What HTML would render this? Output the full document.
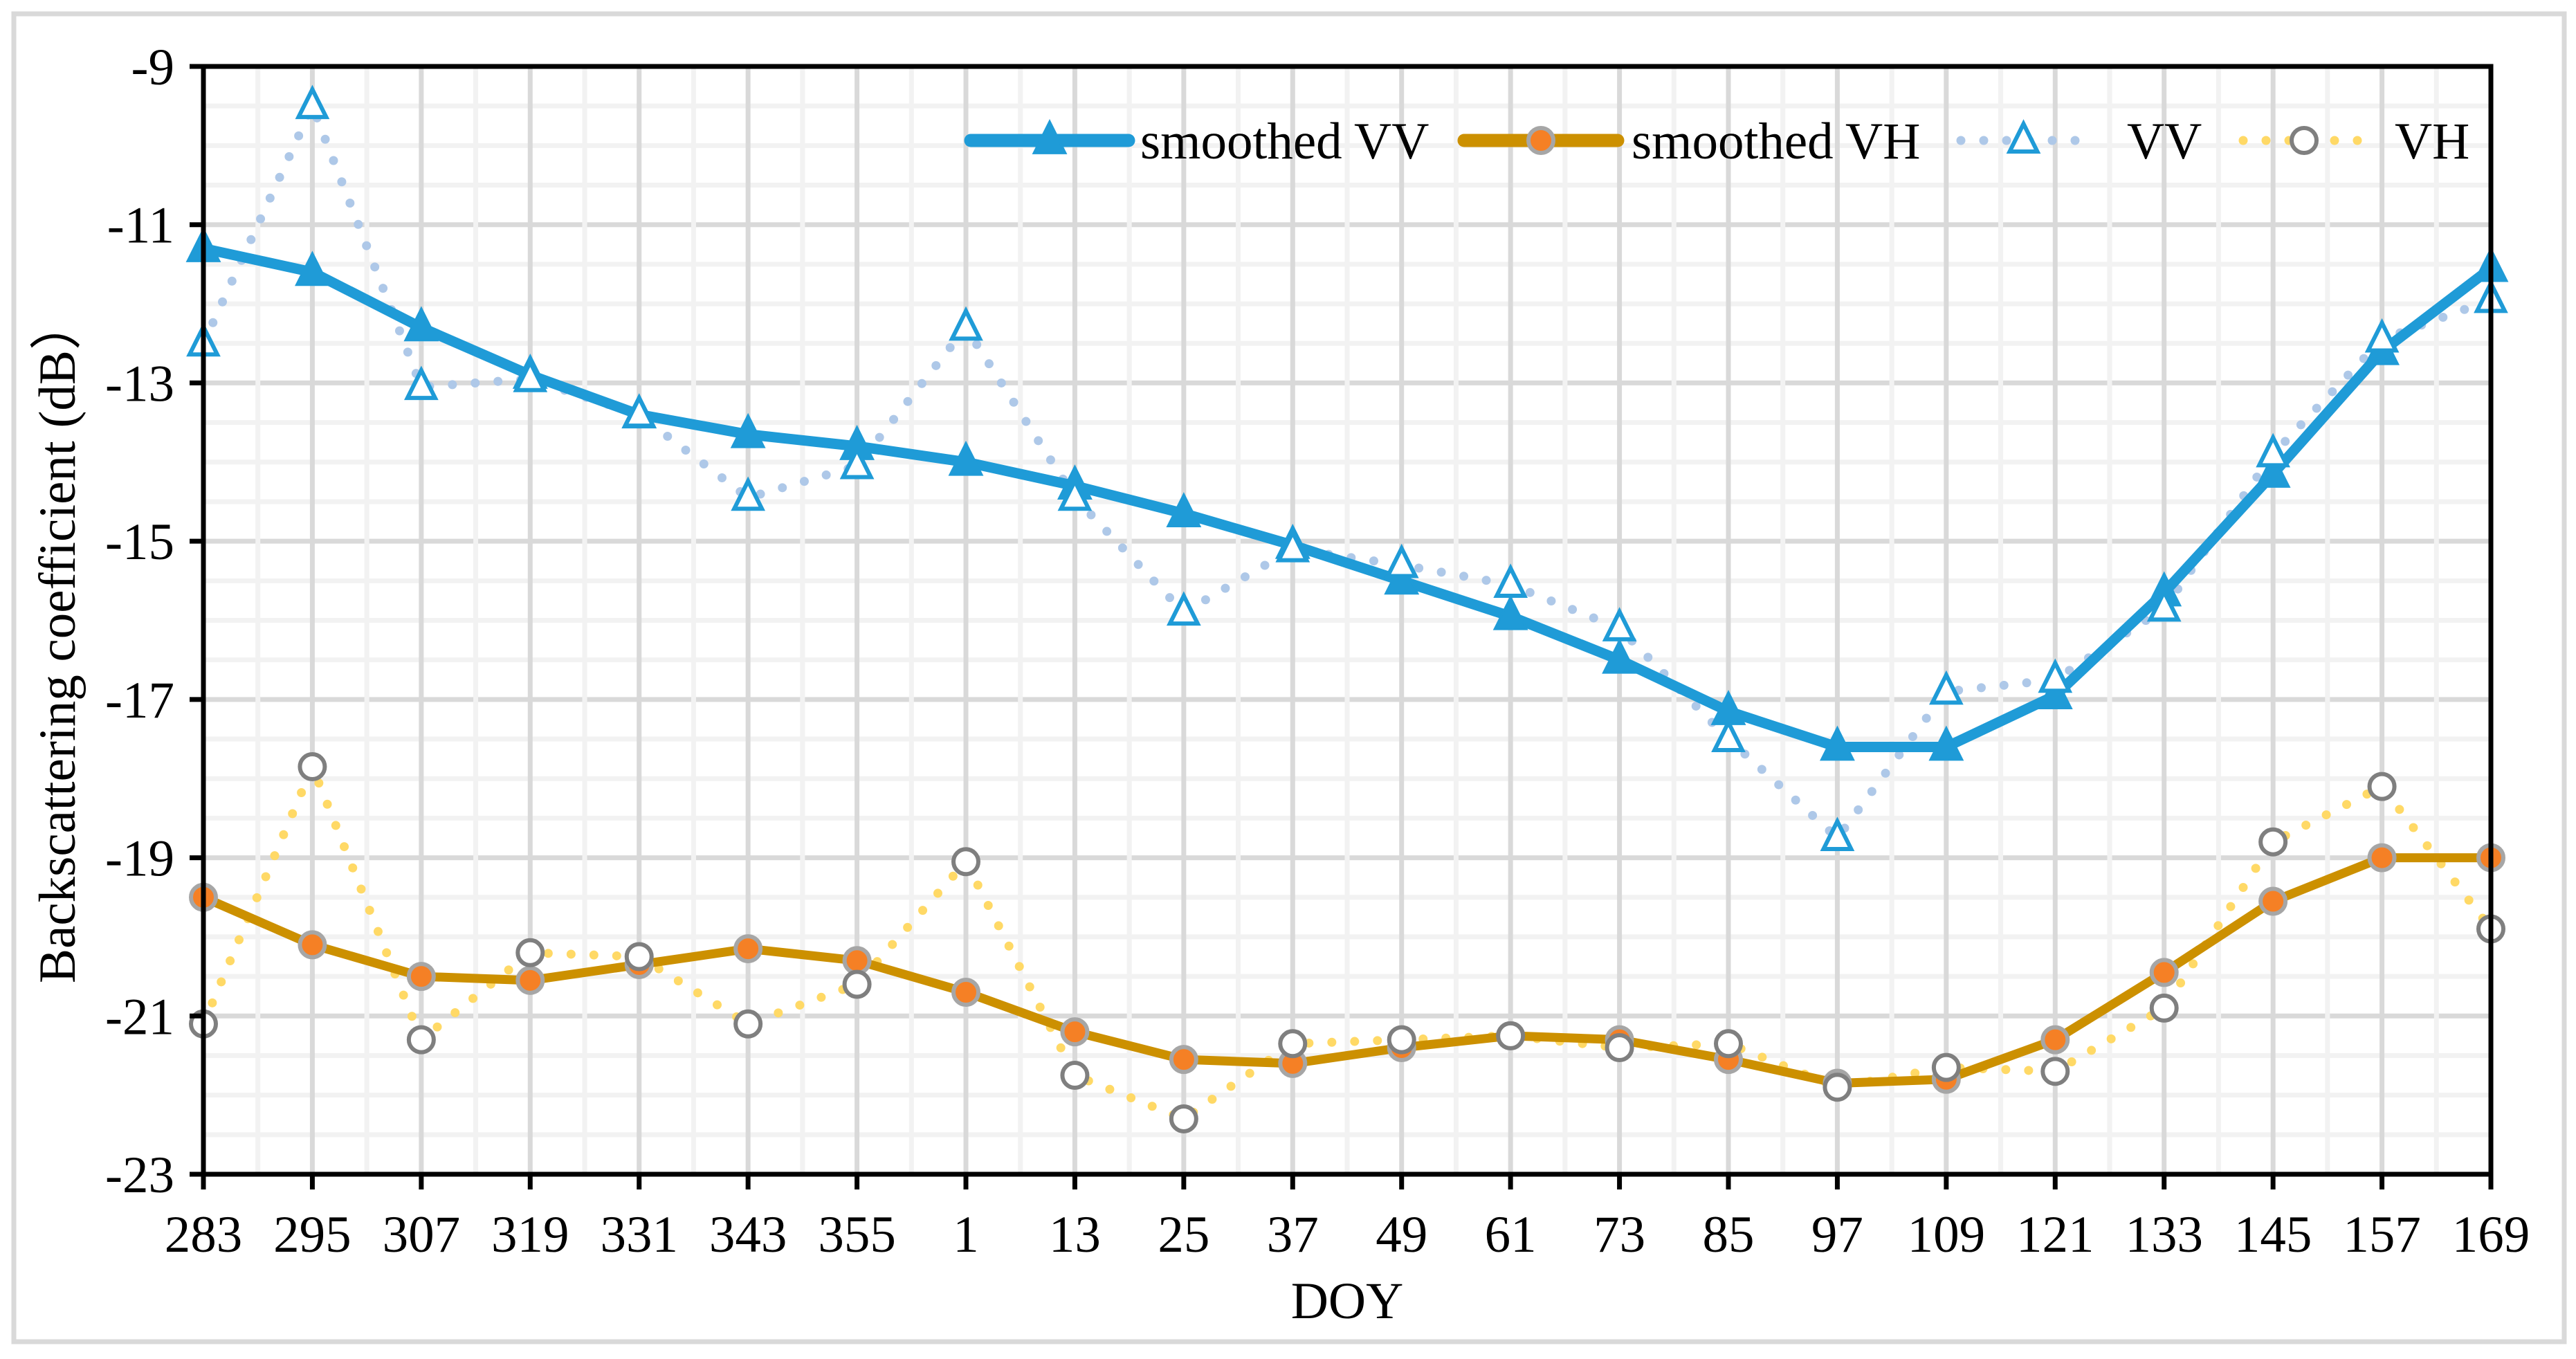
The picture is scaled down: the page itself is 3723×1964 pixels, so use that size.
<!DOCTYPE html>
<html><head><meta charset="utf-8">
<style>
html,body{margin:0;padding:0;background:#fff;}
svg{display:block;}
text{font-family:"Liberation Serif","Times New Roman",serif;fill:#000;}
</style></head>
<body>
<svg id="chart" width="3723" height="1964" viewBox="0 0 3723 1964" xmlns="http://www.w3.org/2000/svg">
<rect x="20" y="20" width="3686" height="1919" fill="#fff" stroke="#d9d9d9" stroke-width="7"/>
<g id="grid"></g>
<g id="series"></g>
<g id="axes"></g>
<g id="legend"></g>
<text x="1947" y="1905" font-size="75" text-anchor="middle">DOY</text>
<text transform="translate(108,926) rotate(-90)" font-size="75" text-anchor="middle">Backscattering coefficient (dB）</text>
</svg>
<script>
const categories = ["283","295","307","319","331","343","355","1","13","25","37","49","61","73","85","97","109","121","133","145","157","169"];
const smoothedVV = [-11.3,-11.6,-12.3,-12.9,-13.4,-13.65,-13.8,-14.0,-14.3,-14.65,-15.05,-15.5,-15.95,-16.5,-17.15,-17.6,-17.6,-16.95,-15.65,-14.15,-12.6,-11.55];
const rawVV = [-12.5,-9.5,-13.05,-12.95,-13.4,-14.45,-14.05,-12.3,-14.45,-15.9,-15.1,-15.3,-15.55,-16.1,-17.5,-18.75,-16.9,-16.75,-15.85,-13.9,-12.45,-11.95];
const smoothedVH = [-19.5,-20.1,-20.5,-20.55,-20.35,-20.15,-20.3,-20.7,-21.2,-21.55,-21.6,-21.4,-21.25,-21.3,-21.55,-21.85,-21.8,-21.3,-20.45,-19.55,-19.0,-19.0];
const rawVH = [-21.1,-17.85,-21.3,-20.2,-20.25,-21.1,-20.6,-19.05,-21.75,-22.3,-21.35,-21.3,-21.25,-21.4,-21.35,-21.9,-21.65,-21.7,-20.9,-18.8,-18.1,-19.9];
const yTicks = [-9,-11,-13,-15,-17,-19,-21,-23];

const NS="http://www.w3.org/2000/svg";
const X0=294,X1=3600,Y0=96,Y1=1697,YMAX=-9,YMIN=-23;
const step=(X1-X0)/(categories.length-1);
const xs=i=>X0+i*step;
const ys=v=>Y0+(YMAX-v)/(YMAX-YMIN)*(Y1-Y0);
function mk(tag,attrs,parent){const e=document.createElementNS(NS,tag);for(const k in attrs)e.setAttribute(k,attrs[k]);parent.appendChild(e);return e;}
const grid=document.getElementById('grid'),ser=document.getElementById('series'),axes=document.getElementById('axes'),leg=document.getElementById('legend');

// grid: minor horizontal every 0.5, major every 2
for(let v=YMIN;v<=YMAX+1e-9;v+=0.5){
  const major=Math.abs((v-YMIN)%2)<1e-9;
  const l=mk('line',{x1:X0,x2:X1,y1:ys(v),y2:ys(v),stroke:major?'#d9d9d9':'#f2f2f2','stroke-width':7},grid);
  
  
}
for(let i=0;i<categories.length;i++){
  if(i>0){const xm=xs(i)-step/2;
    const m=mk('line',{x1:xm,x2:xm,y1:Y0,y2:Y1,stroke:'#f2f2f2','stroke-width':7},grid);
    
    }
  const l=mk('line',{x1:xs(i),x2:xs(i),y1:Y0,y2:Y1,stroke:'#d9d9d9','stroke-width':7},grid);
  
  
}

function pts(arr){return arr.map((v,i)=>xs(i)+','+ys(v)).join(' ');}
function tri(cx,cy,w,h,fill,stroke,sw,parent){
  return mk('polygon',{points:`${cx},${cy-h*0.6} ${cx-w/2},${cy+h*0.4} ${cx+w/2},${cy+h*0.4}`,fill:fill,stroke:stroke,'stroke-width':sw,'stroke-linejoin':'miter'},parent);
}
// raw VH dotted
let p=mk('polyline',{points:pts(rawVH),fill:'none',stroke:'#ffd966','stroke-width':13,'stroke-linecap':'round','stroke-dasharray':'0 33','stroke-linejoin':'round'},ser);


// raw VV dotted
p=mk('polyline',{points:pts(rawVV),fill:'none',stroke:'#aec8e8','stroke-width':13,'stroke-linecap':'round','stroke-dasharray':'0 33','stroke-linejoin':'round'},ser);


// smoothed VH
p=mk('polyline',{points:pts(smoothedVH),fill:'none',stroke:'#cc9000','stroke-width':13,'stroke-linejoin':'round'},ser);


// smoothed VV
p=mk('polyline',{points:pts(smoothedVV),fill:'none',stroke:'#1f9bd7','stroke-width':15,'stroke-linejoin':'round'},ser);



smoothedVH.forEach((v,i)=>{
  const c=mk('circle',{cx:xs(i),cy:ys(v),r:18,fill:'#f58025',stroke:'#a6a6a6','stroke-width':6},ser);
  
  
});
rawVH.forEach((v,i)=>{
  const c=mk('circle',{cx:xs(i),cy:ys(v),r:18,fill:'#fff',stroke:'#7f7f7f','stroke-width':6},ser);
  
  
});
smoothedVV.forEach((v,i)=>{
  const t=tri(xs(i),ys(v),46,46,'#1f9bd7','#1f9bd7',3,ser);
  
  
});
rawVV.forEach((v,i)=>{
  const t=tri(xs(i),ys(v),40,40,'#fff','#1f9bd7',6,ser);
  
  
});

// axes
let a=mk('rect',{x:X0,y:Y0,width:X1-X0,height:Y1-Y0,fill:'none',stroke:'#000','stroke-width':7},axes);


yTicks.forEach(v=>{
  const t=mk('line',{x1:X0-20,x2:X0,y1:ys(v),y2:ys(v),stroke:'#000','stroke-width':7},axes);
  
  
  const tx=mk('text',{x:X0-42,y:ys(v)+26,'font-size':75,'text-anchor':'end'},axes);
  tx.textContent=String(v);
  
  
});
categories.forEach((c,i)=>{
  const t=mk('line',{x1:xs(i),x2:xs(i),y1:Y1,y2:Y1+22,stroke:'#000','stroke-width':7},axes);
  
  
  const tx=mk('text',{x:xs(i),y:Y1+112,'font-size':75,'text-anchor':'middle'},axes);
  tx.textContent=c;
  
  
});

// legend
const LY=203;
function legItem(x1,x2,tx,label,kind,name){
  const g=mk('g',{},leg);
  
  
  const cx=(x1+x2)/2;
  if(kind==='svv'){mk('line',{x1:x1,x2:x2,y1:LY,y2:LY,stroke:'#1f9bd7','stroke-width':19,'stroke-linecap':'round'},g);tri(cx,LY,46,46,'#1f9bd7','#1f9bd7',3,g);}
  if(kind==='svh'){mk('line',{x1:x1,x2:x2,y1:LY,y2:LY,stroke:'#cc9000','stroke-width':19,'stroke-linecap':'round'},g);mk('circle',{cx:cx,cy:LY,r:18,fill:'#f58025',stroke:'#a6a6a6','stroke-width':6},g);}
  if(kind==='vv'){mk('line',{x1:x1,x2:x2,y1:LY,y2:LY,stroke:'#aec8e8','stroke-width':13,'stroke-linecap':'round','stroke-dasharray':'0 33'},g);tri(cx,LY,40,40,'#fff','#1f9bd7',6,g);}
  if(kind==='vh'){mk('line',{x1:x1,x2:x2,y1:LY,y2:LY,stroke:'#ffd966','stroke-width':13,'stroke-linecap':'round','stroke-dasharray':'0 33'},g);mk('circle',{cx:cx,cy:LY,r:18,fill:'#fff',stroke:'#7f7f7f','stroke-width':6},g);}
  const t=mk('text',{x:tx,y:LY+26,'font-size':75},g);
  t.textContent=label;
}
legItem(1403,1631,1648,'smoothed VV','svv','legend-smoothed-vv');
legItem(2116,2338,2358,'smoothed VH','svh','legend-smoothed-vh');
legItem(2834,3015,3074,'VV','vv','legend-vv');
legItem(3242,3418,3461,'VH','vh','legend-vh');
</script>
</body></html>
